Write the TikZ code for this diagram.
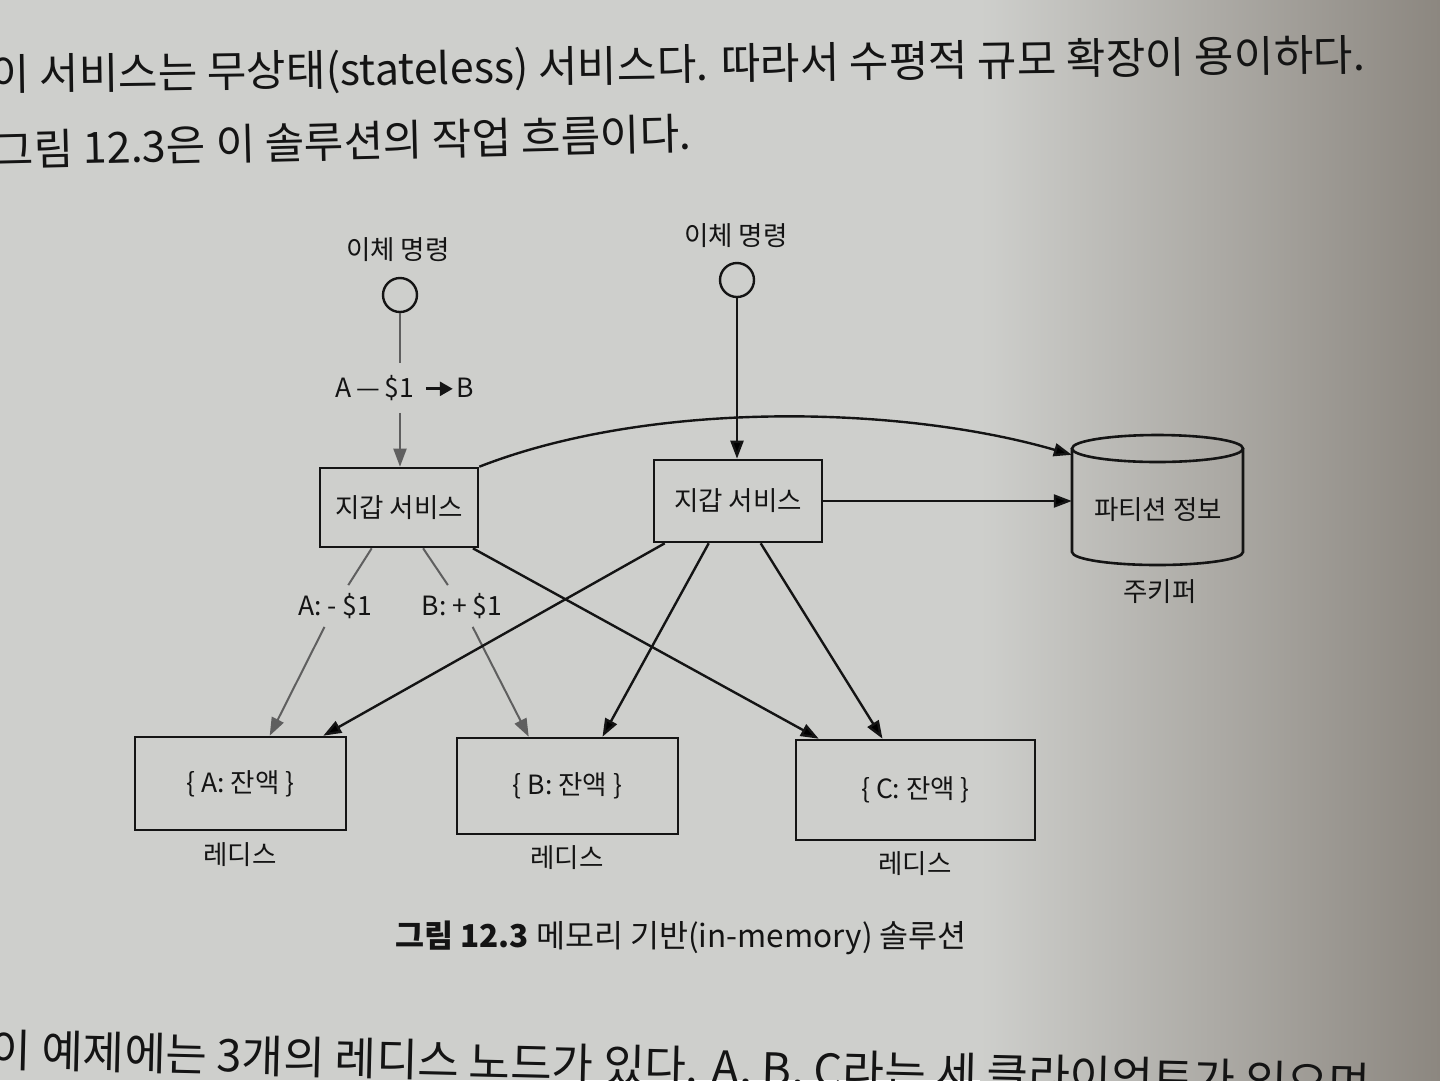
\documentclass[tikz,border=0pt]{standalone}
\usepackage{fontspec}
\setmainfont{Noto Sans CJK KR}
\newfontfamily\bodykr{Noto Sans CJK KR}
\usetikzlibrary{arrows.meta,calc}
\definecolor{paper}{RGB}{206,207,204}
\definecolor{papermid}{RGB}{184,182,178}
\definecolor{paperdark}{RGB}{140,135,128}
\definecolor{ink}{RGB}{20,20,20}
\definecolor{halftone}{RGB}{95,95,95}
\begin{document}
\begin{tikzpicture}[x=1pt,y=-1pt,
  box/.style={draw=ink, line width=2.6pt, font=\fontsize{26.5}{30}\selectfont, text=ink, inner sep=0pt},
  lbl/.style={font=\fontsize{26.5}{30}\selectfont, text=ink, inner sep=0pt},
  src/.style={circle, draw=ink, line width=2.4pt, minimum size=34pt, inner sep=0pt},
  flow/.style={draw=ink, line width=2.4pt, -{Triangle[length=18pt,width=13pt]}},
  cmd/.style={draw=halftone, line width=2pt},
  cmdarrow/.style={draw=halftone, line width=2pt, -{Triangle[length=18pt,width=13pt]}},
  body/.style={font=\bodykr\fontsize{43}{48}\selectfont, text=ink, inner sep=0pt, anchor=west}
]
\useasboundingbox (0,0) rectangle (1440,1080);
\clip (0,0) rectangle (1440,1080);
\fill[paper] (0,0) rectangle (1440,1080);
\shade[left color=paper, middle color=papermid, right color=paperdark] (980,0) rectangle (1440,1080);

% page text
\node[body, rotate=0.85] (p1) at (-10,77) {이 서비스는 무상태(stateless) 서비스다. 따라서 수평적 규모 확장이 용이하다.};
\node[body, rotate=1.4] (p2) at (-6,150) {그림 12.3은 이 솔루션의 작업 흐름이다.};
\node[body, rotate=-1.4, font=\bodykr\fontsize{45}{50}\selectfont] (p3) at (-10,1052) {이 예제에는 3개의 레디스 노드가 있다. A, B, C라는 세 클라이언트가 있으며};

% sources
\node[src] (c1) at (400,295) {};
\node[lbl] (t1) at (398,250) {이체 명령};
\node[src] (c2) at (737,280) {};
\node[lbl] (t2) at (736,236) {이체 명령};

% wallet services
\node[box, minimum width=158, minimum height=79] (w1) at (399,507.5) {지갑 서비스};
\node[box, minimum width=168, minimum height=82] (w2) at (738,501) {지갑 서비스};

% zookeeper cylinder
\node[minimum width=171, minimum height=90, inner sep=0pt] (db) at (1157.5,500) {};
\draw[ink, line width=2.6pt] (1157.5,448.5) ellipse [x radius=85.5, y radius=13.5];
\draw[ink, line width=2.6pt] (1072,448.5) -- (1072,552) arc[start angle=180, end angle=0, x radius=85.5, y radius=13] -- (1243,448.5);
\node[lbl] (dbt) at (1158,510) {파티션 정보};
\node[lbl] (zk) at (1160,592) {주키퍼};

% redis nodes
\node[box, minimum width=211, minimum height=93] (ra) at (240.5,783.5) {\{ A: 잔액 \}};
\node[box, minimum width=221, minimum height=96] (rb) at (567.5,786) {\{ B: 잔액 \}};
\node[box, minimum width=239, minimum height=100] (rc) at (915.5,790) {\{ C: 잔액 \}};
\node[lbl] (la) at (240,855) {레디스};
\node[lbl] (lb) at (567,858) {레디스};
\node[lbl] (lc) at (915,864) {레디스};

% left command flow
\node[lbl, inner ysep=12pt] (a1) at (405,388) {A\,—\,\$1\hspace{0.4em}\tikz[baseline=-0.6ex]\draw[ink, line width=2.8pt, -{Triangle[length=13pt,width=14pt]}] (0pt,0pt) -- (27pt,0pt);\hspace{0.1em}B};
\draw[cmd] (c1) -- (c1 |- a1.north);
\draw[cmdarrow] (c1 |- a1.south) -- (c1 |- w1.north);

\node[lbl, inner sep=8pt] (ma) at (335,606) {A: - \$1};
\node[lbl, inner sep=8pt] (mb) at (462,606) {B: + \$1};
\draw[cmd] ($(w1.south west)!0.33!(w1.south east)$) -- (ma);
\draw[cmdarrow] (ma) -- ($(ra.north west)+(136,0)$);
\draw[cmd] ($(w1.south west)!0.65!(w1.south east)$) -- (mb);
\draw[cmdarrow] (mb) -- ($(rb.north west)+(73,0)$);

% right command flow
\draw[flow] (c2) -- (c2 |- w2.north);
\draw[flow] (w1.north east) .. controls (650,400) and (900,405) .. (db.north west);
\draw[flow] (w2.east) -- (w2.east -| db.west);

% black arrows to redis
\draw[flow] ($(w1.south west)!0.96!(w1.south east)$) -- ($(rc.north west)+(24,0)$);
\draw[flow] ($(w2.south west)+(12,0)$) -- ($(ra.north east)+(-24,0)$);
\draw[flow] ($(w2.south west)+(56,0)$) -- ($(rb.north)+(35,0)$);
\draw[flow] ($(w2.south west)+(108,0)$) -- ($(rc.north)+(-33,0)$);

% caption
\node[lbl, font=\fontsize{31.5}{36}\selectfont] (cap) at (681,938) {\textbf{그림 12.3} 메모리 기반(in-memory) 솔루션};
\end{tikzpicture}
\end{document}
